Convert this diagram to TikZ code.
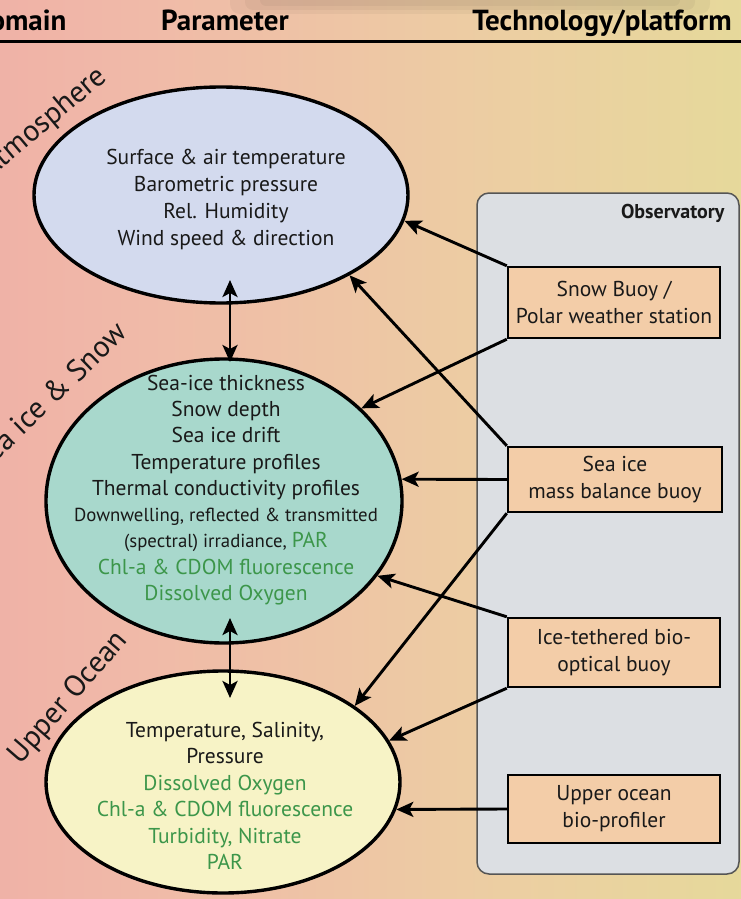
\documentclass[tikz,border=0pt]{standalone}
\usepackage{fontspec}
\setmainfont{PT Sans}
\usetikzlibrary{shapes.geometric,arrows.meta}
\definecolor{bgA}{RGB}{238,158,165}
\definecolor{bgB}{RGB}{240,186,168}
\definecolor{bgC}{RGB}{236,207,162}
\definecolor{bgD}{RGB}{226,223,150}
\definecolor{bgE}{RGB}{214,228,140}
\definecolor{atmfill}{RGB}{211,218,238}
\definecolor{seafill}{RGB}{168,216,204}
\definecolor{ocefill}{RGB}{247,243,198}
\definecolor{boxfill}{RGB}{243,205,168}
\definecolor{obsfill}{RGB}{220,223,227}
\definecolor{obsline}{RGB}{85,85,85}
\definecolor{txt}{RGB}{25,25,25}
\definecolor{grn}{RGB}{60,150,74}
\pgfdeclarehorizontalshading{bgshade}{100bp}{color(0bp)=(bgA); color(35bp)=(bgB); color(60bp)=(bgC); color(85bp)=(bgD); color(100bp)=(bgE)}
\tikzset{
  ell/.style={ellipse, draw=black, line width=3.4, inner sep=0pt},
  ptxt/.style={align=center, text=txt, font=\fontsize{21.5}{27}\selectfont},
  dom/.style={text=txt, font=\fontsize{30}{34}\selectfont},
  hdr/.style={text=black, font=\bfseries\fontsize{29}{33}\selectfont},
  platbox/.style={draw=black, line width=2.4, fill=boxfill, align=center, text=txt, inner sep=0pt, font=\fontsize{21.5}{27}\selectfont},
  arr/.style={line width=2.9, -{Stealth[length=17,width=15,inset=4]}},
  darr/.style={line width=2.9, {Stealth[length=17,width=15,inset=4]}-{Stealth[length=17,width=15,inset=4]}},
}
\begin{document}
\begin{tikzpicture}[x=1pt,y=-1pt]
\useasboundingbox (0,0) rectangle (741,899);
\shade[shading=bgshade] (0,0) rectangle (741,899);
% soft shadow at top
\fill[black, opacity=0.04, rounded corners=10] (230,-10) rectangle (710,14);
\fill[black, opacity=0.04, rounded corners=8] (245,-10) rectangle (695,10);
\fill[black, opacity=0.04, rounded corners=6] (260,-10) rectangle (680,6);

% header
\node[hdr, anchor=base east] (hdom) at (70,31) {Domain};
\node[hdr, anchor=base] (hpar) at (225,31) {Parameter};
\node[hdr, anchor=base] (htec) at (602,31) {Technology/platform};
\coordinate (hl) at (0,42);
\coordinate (hr) at (741,42);
\draw[line width=3] (hl) -- (hr);

% observatory panel
\node[draw=obsline, line width=1.5, fill=obsfill, rounded corners=12, minimum width=262, minimum height=681, inner sep=0pt] (obs) at (608,533.5) {};
\node[anchor=east, text=txt, font=\bfseries\fontsize{20}{24}\selectfont] (obsl) at (728,213) {Observatory};

% ellipses
\node[ell, fill=atmfill, minimum width=374, minimum height=216] (atm) at (221,195) {};
\node[ell, fill=seafill, minimum width=356, minimum height=284] (sea) at (224,501) {};
\node[ell, fill=ocefill, minimum width=354, minimum height=222] (oce) at (223,782) {};

% parameter texts
\node[ptxt] (atmt) at (226,199) {Surface \& air temperature\\Barometric pressure\\Rel. Humidity\\Wind speed \& direction};
\node[ptxt, font=\fontsize{21.5}{26.3}\selectfont] (seat) at (226,490) {Sea-ice thickness\\Snow depth\\Sea ice drift\\Temperature profiles\\Thermal conductivity profiles\\{\fontsize{18.8}{26.3}\selectfont Downwelling, reflected \& transmitted}\\{\fontsize{18.8}{26.3}\selectfont (spectral) irradiance, \textcolor{grn}{\fontsize{21.5}{26.3}\selectfont PAR}}\\\textcolor{grn}{Chl-a \& CDOM fluorescence}\\\textcolor{grn}{Dissolved Oxygen}};
\node[ptxt, font=\fontsize{21.5}{26.5}\selectfont] (ocet) at (225,796) {Temperature, Salinity,\\Pressure\\\textcolor{grn}{Dissolved Oxygen}\\\textcolor{grn}{Chl-a \& CDOM fluorescence}\\\textcolor{grn}{Turbidity, Nitrate}\\\textcolor{grn}{PAR}};

% domain labels
\node[dom, rotate=40, anchor=base east] (ldom1) at (111,77) {Atmosphere};
\node[dom, rotate=44, anchor=base east] (ldom2) at (131,332) {Sea ice \& Snow};
\node[dom, rotate=49, anchor=base east] (ldom3) at (131,638) {Upper Ocean};

% platform boxes
\node[platbox, minimum width=212, minimum height=71] (snow) at (614,302.5) {Snow Buoy /\\Polar weather station};
\node[platbox, minimum width=214, minimum height=65] (mass) at (615,479.5) {Sea ice\\mass balance buoy};
\node[platbox, minimum width=212, minimum height=69] (teth) at (614,652.5) {Ice-tethered bio-\\optical buoy};
\node[platbox, minimum width=212, minimum height=68] (bio) at (614,809) {Upper ocean\\bio-profiler};

% vertical double arrows
\coordinate (d1a) at (230,280);
\coordinate (d1b) at (230,362);
\coordinate (d2a) at (230,618);
\coordinate (d2b) at (230,698);
\draw[darr] (d1a) -- (d1b);
\draw[darr] (d2a) -- (d2b);

% connectors
\draw[arr] (snow.north west) -- (atm.-8);
\draw[arr] (snow.south west) -- (sea.34);
\draw[arr] (mass.north west) -- (atm.-32);
\draw[arr] (mass.west) -- (sea.7);
\draw[arr] (mass.south west) -- (oce.30);
\draw[arr] (teth.north west) -- (sea.-26);
\draw[arr] (teth.south west) -- (oce.14);
\draw[arr] (bio.west) -- (oce.-9);
\end{tikzpicture}
\end{document}
